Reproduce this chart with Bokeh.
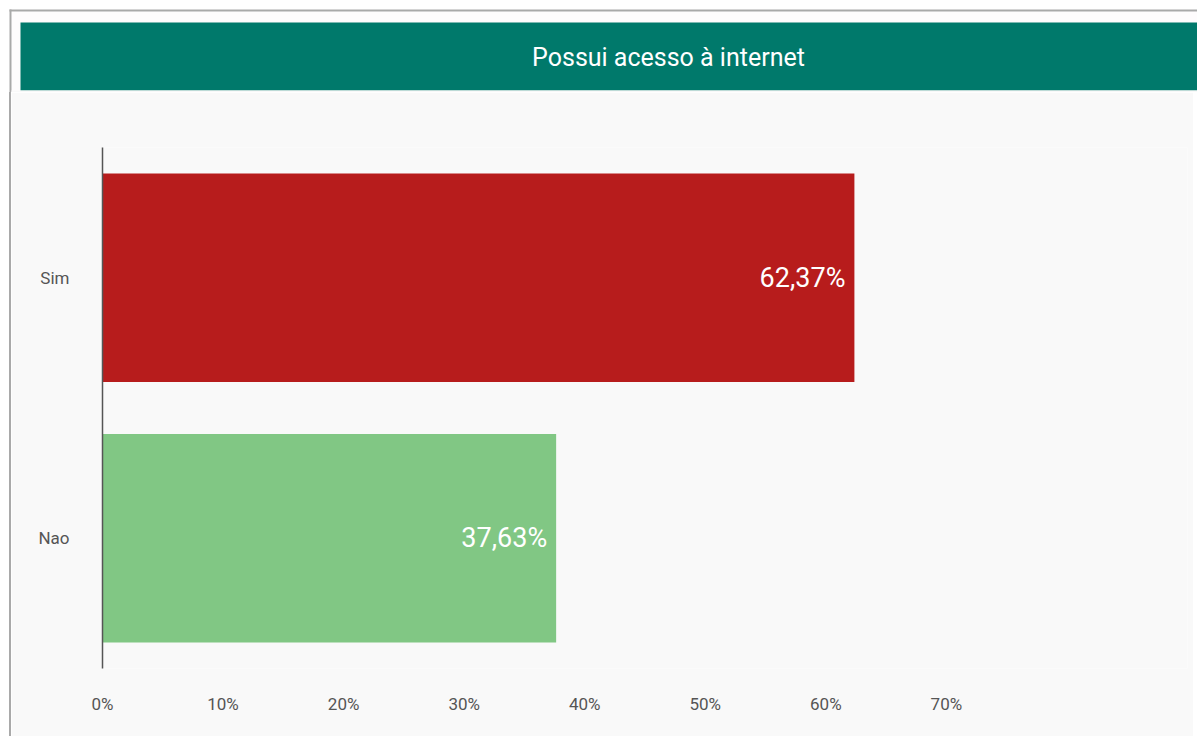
from bokeh.plotting import figure
from bokeh.layouts import column
from bokeh.models import Range1d, FactorRange, FixedTicker, ColumnDataSource
from bokeh.embed import file_html
from bokeh.resources import INLINE
from bokeh.core.properties import value

title_text = "Possui acesso à internet"
categories = ["Sim", "Nao"]
values = [62.37, 37.63]
value_labels = ["62,37%", "37,63%"]
bar_colors = ["#B71C1C", "#81C784"]
tick_values = [0, 10, 20, 30, 40, 50, 60, 70]
tick_labels = ["0%", "10%", "20%", "30%", "40%", "50%", "60%", "70%"]

FONT = "Roboto"
W = 1197
BANNER_H = 92
MAIN_H = 644

# ---------------- banner (header strip) ----------------
hb = figure(width=W, height=BANNER_H, x_range=Range1d(0, W), y_range=Range1d(BANNER_H, 0),
            x_axis_location=None, y_axis_location=None, output_backend="svg", toolbar_location=None,
            min_border=0, min_border_left=0, min_border_right=0, min_border_top=0, min_border_bottom=0)
hb.frame_align = False
hb.outline_line_color = None
hb.xgrid.visible = False
hb.ygrid.visible = False
hb.background_fill_color = "white"
hb.border_fill_color = "white"
hb.quad(left=[11], right=[W], top=[11], bottom=[BANNER_H], fill_color="#fefcfd", line_color=None)
hb.quad(left=[9], right=[W], top=[9], bottom=[11], fill_color="#a9a9a9", line_color=None)
hb.quad(left=[9], right=[11], top=[9], bottom=[BANNER_H], fill_color="#a9a9a9", line_color=None)
hb.quad(left=[20], right=[W], top=[22], bottom=[90], fill_color="#00796B", line_color=None)
hb.quad(left=[11], right=[W], top=[90], bottom=[BANNER_H], fill_color="#f9f9f9", line_color=None)
hb.text(x=[668], y=[57], text=[title_text], text_align="center", text_baseline="middle",
        text_color="white", text_font=value(FONT), text_font_size="25px")

# ---------------- main chart ----------------
src = ColumnDataSource(dict(cat=categories, val=values, lab=value_labels, col=bar_colors))

p = figure(
    width=W - 13, height=MAIN_H,
    y_range=FactorRange(factors=list(reversed(categories)), range_padding=0),
    x_range=Range1d(0, 90),
    output_backend="svg", toolbar_location=None,
    min_border_left=91, min_border_right=8, min_border_top=55, min_border_bottom=68,
)
p.frame_align = False
p.styles = {"margin-left": "9px", "border-left": "2px solid #a9a9a9"}
p.background_fill_color = "#f9f9f9"
p.border_fill_color = "#f9f9f9"
p.outline_line_color = None
p.xgrid.visible = False
p.ygrid.visible = False

p.hbar(y="cat", left=0, right="val", height=0.8, fill_color="col", line_color=None, source=src)
p.text(x="val", y="cat", text="lab", x_offset=-9, text_align="right", text_baseline="middle",
       text_color="white", text_font=value(FONT), text_font_size="27px", source=src)

xa = p.xaxis[0]
xa.ticker = FixedTicker(ticks=tick_values)
xa.major_label_overrides = {t: l for t, l in zip(tick_values, tick_labels)}
xa.axis_line_color = None
xa.major_tick_line_color = None
xa.minor_tick_line_color = None
xa.major_label_standoff = 19
xa.major_label_text_font = FONT
xa.major_label_text_font_size = "17px"
xa.major_label_text_color = "#555555"

ya = p.yaxis[0]
ya.axis_line_color = "#555555"
ya.axis_line_width = 1.5
ya.major_tick_line_color = None
ya.minor_tick_line_color = None
ya.major_label_standoff = 27
ya.major_label_text_font = FONT
ya.major_label_text_font_size = "17px"
ya.major_label_text_color = "#555555"

layout = column(hb, p, spacing=0)
open("out.html", "w").write(file_html(layout, INLINE))
